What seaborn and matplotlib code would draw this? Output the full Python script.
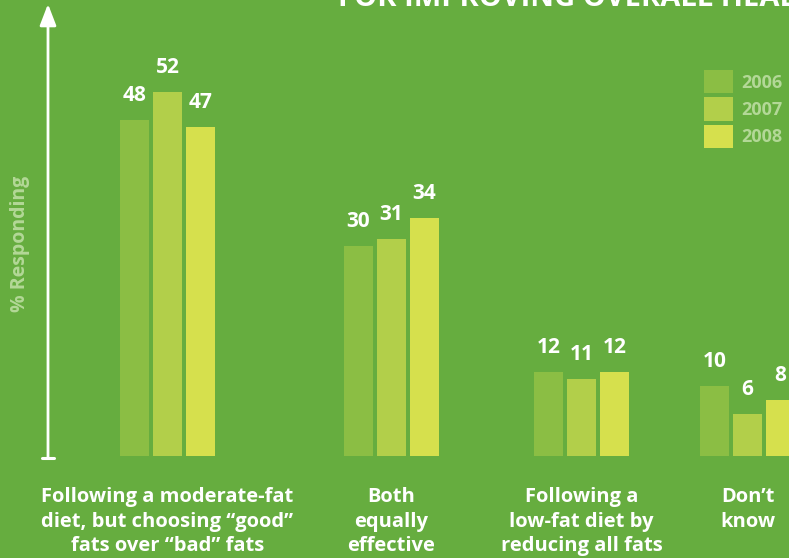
import matplotlib
matplotlib.use("Agg")
import matplotlib.pyplot as plt
import seaborn as sns
import pandas as pd

# ---- data ----
categories = [
    "Following a moderate-fat\ndiet, but choosing \u201cgood\u201d\nfats over \u201cbad\u201d fats",
    "Both\nequally\neffective",
    "Following a\nlow-fat diet by\nreducing all fats",
    "Don\u2019t\nknow",
]
years = ["2006", "2007", "2008"]
v2006 = [48, 30, 12, 10]
v2007 = [52, 31, 11, 6]
v2008 = [47, 34, 12, 8]
title_text = "FOR IMPROVING OVERALL HEALTH"
ylabel_text = "% Responding"

# ---- layout (pixel-based positions of groups) ----
group_x = [167.5, 391.5, 581.5, 747.5]
W, H = 789, 558
baseline_px = 455.5  # from top
px_per_unit = 7.0

bg = "#66ad3f"
palette = {"2006": "#8bbe44", "2007": "#b2cf4a", "2008": "#d6e04d"}
soft = "#b3d897"

rows = []
for yr, vals in zip(years, [v2006, v2007, v2008]):
    for gx, v in zip(group_x, vals):
        rows.append({"pos": gx, "year": yr, "value": v})
df = pd.DataFrame(rows)

sns.set_style("white")
plt.rcParams["font.family"] = ["Open Sans", "DejaVu Sans"]

fig = plt.figure(figsize=(W / 100, H / 100), dpi=100, facecolor=bg)
ax = fig.add_axes([0, (H - baseline_px) / H, 1, baseline_px / H])
ax.set_facecolor(bg)

sns.barplot(data=df, x="pos", y="value", hue="year", hue_order=years,
            palette=palette, native_scale=True, orient="x",
            width=99 / 166, gap=0.12, saturation=1, ax=ax,
            edgecolor="none", linewidth=0, errorbar=None)

ax.set_xlim(0, W)
ax.set_ylim(0, baseline_px / px_per_unit)

for c in ax.containers:
    ax.bar_label(c, padding=10, color="white", fontsize=15, fontweight="bold")

ax.set_xticks(group_x)
ax.set_xticklabels(categories, color="white", fontsize=14.5, fontweight="bold",
                   linespacing=1.28)
ax.tick_params(axis="x", length=0, pad=23)
ax.set_yticks([])
ax.set_xlabel("")
ax.set_ylabel("")
for s in ax.spines.values():
    s.set_visible(False)

# legend
leg = ax.get_legend()
handles = leg.legend_handles
leg.remove()
fs = 13
fpx = fs * 100 / 72
lg = fig.legend(handles, years, loc="upper left",
                bbox_to_anchor=(704 / W, 1 - 70 / H), bbox_transform=fig.transFigure,
                frameon=False, prop={"weight": "bold", "size": fs},
                handlelength=29 / fpx, handleheight=29 / fpx,
                labelspacing=4 / fpx, handletextpad=8 / fpx,
                borderpad=0, borderaxespad=0)
for t in lg.get_texts():
    t.set_color(soft)

# y axis arrow
ax_x = 48 / W
fig.add_artist(matplotlib.patches.FancyArrowPatch(
    (ax_x, 1 - 457 / H), (ax_x, 1 - 4 / H), transform=fig.transFigure,
    arrowstyle="-|>,head_length=13,head_width=5", mutation_scale=1,
    color="white", lw=2.0, shrinkA=0, shrinkB=0))
fig.add_artist(matplotlib.lines.Line2D([42 / W, 54 / W], [1 - 457.5 / H, 1 - 457.5 / H],
                                       transform=fig.transFigure, color="white", lw=2.2))

fig.text(20 / W, 1 - 244 / H, ylabel_text, rotation=90, ha="center", va="center",
         color=soft, fontsize=14, fontweight="bold")

fig.text(338 / W, 1 - 5.5 / H, title_text, ha="left", va="baseline",
         color="white", fontsize=21, fontweight="bold")

fig.savefig("out.png", dpi=100, facecolor=bg)
